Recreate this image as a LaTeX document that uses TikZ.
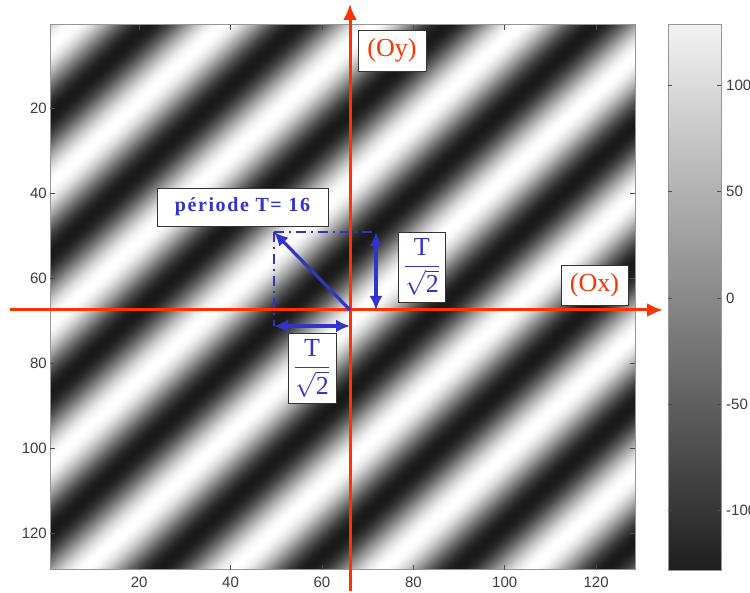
\documentclass[tikz,border=0pt]{standalone}
\usepackage{amsmath}
\usepackage{fontspec}
\setmainfont{Liberation Serif}
\setsansfont{Liberation Sans}
\newfontfamily\spacedserif[LetterSpace=8]{Liberation Serif}
\usetikzlibrary{arrows.meta,positioning,calc}

\definecolor{axisred}{RGB}{255,51,0}
\definecolor{noteblue}{RGB}{51,51,204}
\definecolor{framegray}{RGB}{150,150,150}
\definecolor{ticktext}{RGB}{60,60,60}

\begin{document}
\begin{tikzpicture}[x=1pt, y=-1pt,
    labelbox/.style={draw=black!80, line width=0.8pt, fill=white, rectangle, inner sep=0pt},
    axisline/.style={draw=axisred, line width=3pt, >={Latex[length=16pt,width=14pt]}, ->},
    noteline/.style={draw=noteblue, line width=3.2pt, >={Latex[length=14pt,width=13pt]}},
    guideline/.style={draw=noteblue, line width=2.6pt, dash pattern=on 10pt off 5pt on 2pt off 5pt},
    ticklabel/.style={font=\sffamily\fontsize{15}{15}\selectfont, text=ticktext, inner sep=0pt},
    tickmark/.style={draw=black!70, line width=0.8pt}]
    \fill[white] (0,0) rectangle (750,593);
    \useasboundingbox (0,0) rectangle (750,593);

    % grating image, 128 x 128 samples
    \begin{scope}[shift={(47.715,22.871)}, x=4.5703pt, y=-4.2578pt]
        \begin{scope}
            \clip (0.5,0.5) rectangle (128.5,128.5);
            \foreach \s in {1,1.5,...,257} {
                \pgfmathsetmacro\lum{0.1+0.9*(1-cos(11.0429*(\s-119.95)))/2}
                \definecolor{stripe}{gray}{\lum}
                \fill[stripe] (0.5,\s-0.5) -- (\s-0.5,0.5) -- (\s+0.3,0.5) -- (0.5,\s+0.3) -- cycle;
            }
        \end{scope}
        \draw[draw=framegray, line width=1pt] (0.5,0.5) rectangle (128.5,128.5);
        \foreach \t in {20,40,...,120} {
            \draw[tickmark] (0.5,\t) -- ++(1.1,0);
            \draw[tickmark] (128.5,\t) -- ++(-1.1,0);
            \draw[tickmark] (\t,128.5) -- ++(0,-1.2);
            \draw[tickmark] (\t,0.5) -- ++(0,1.2);
            \node[ticklabel, anchor=east, xshift=-3pt] (ylab\t) at (0.5,\t) {\t};
            \node[ticklabel, anchor=north, yshift=-7pt] (xlab\t) at (\t,128.5) {\t};
        }
    \end{scope}

    % colour bar
    \shade[top color=black!5, bottom color=black!88] (668,25) rectangle (721,570);
    \draw[draw=framegray, line width=1pt] (668,25) rectangle (721,570);
    \foreach \c [count=\i] in {100,50,0,-50,-100} {
        \draw[tickmark] (668,{298-2.125*\c}) -- ++(4,0);
        \draw[tickmark] (721,{298-2.125*\c}) -- ++(-4,0);
        \node[ticklabel, anchor=west] (cblab\i) at (726,{298-2.125*\c}) {\c};
    }

    \coordinate (origin) at (350,310);
    \coordinate (corner) at (274,232);
    \coordinate (vtop) at (376,232);
    \coordinate (vbot) at (376,310);
    \coordinate (vmid) at (376,267);
    \coordinate (hleft) at (274,326);
    \coordinate (hright) at (350,326);
    \coordinate (hmid) at (312,326);

    % dash-dot construction lines
    \draw[guideline] (corner) -- (vtop);
    \draw[guideline] (corner) -- (hleft);

    % axes
    \coordinate (oxstart) at (10,310);
    \coordinate (oxend) at (663,310);
    \coordinate (oystart) at (350,591);
    \coordinate (oyend) at (350,4);
    \draw[axisline] (oxstart) -- (oxend);
    \draw[axisline] (oystart) -- (oyend);

    \draw[noteline, ->] (origin) -- (corner);
    \draw[noteline, <->] (vtop) -- (vbot);
    \draw[noteline, <->] (hleft) -- (hright);

    \node[labelbox, minimum width=171pt, minimum height=38pt, text=noteblue, font=\spacedserif\bfseries\fontsize{20}{20}\selectfont] (period) at (242.5,207) {période T= 16};
    \node[labelbox, minimum width=68pt, minimum height=41pt, text=axisred, font=\fontsize{26}{26}\selectfont] (oylabel) at (392,50.5) {(Oy)};
    \node[labelbox, minimum width=67pt, minimum height=40pt, text=axisred, font=\fontsize{26}{26}\selectfont] (oxlabel) at (594.5,285) {(Ox)};
    \node[labelbox, minimum width=47pt, minimum height=70pt, text=noteblue, font=\fontsize{26}{26}\selectfont, right=22pt of vmid] (fracright) {$\dfrac{\text{T}}{\sqrt{\text{2}}}$};
    \node[labelbox, minimum width=48pt, minimum height=70pt, text=noteblue, font=\fontsize{26}{26}\selectfont, below=7pt of hmid] (fracbelow) {$\dfrac{\text{T}}{\sqrt{\text{2}}}$};
\end{tikzpicture}
\end{document}
